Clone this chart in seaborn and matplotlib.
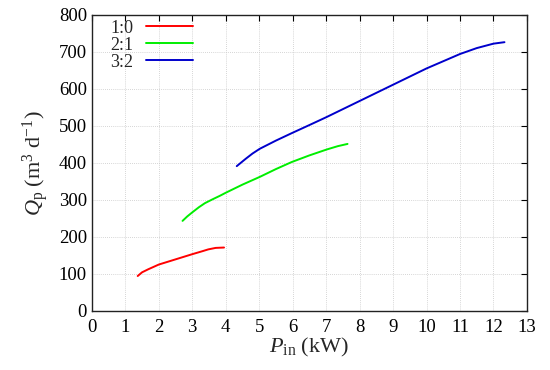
import matplotlib
matplotlib.use("Agg")
import matplotlib.pyplot as plt
import seaborn as sns
import pandas as pd

labels = ["1:0", "2:1", "3:2"]
colors = ["#ff0000", "#00ee00", "#0000cc"]

x_10 = [1.37, 1.5, 1.68, 2.0, 2.5, 3.0, 3.3, 3.48, 3.7, 3.95]
y_10 = [94, 104, 112, 125, 139, 153, 161, 166, 170, 171]

x_21 = [2.71, 2.85, 3.0, 3.2, 3.38, 3.6, 3.83, 4.0, 4.5, 5.02, 5.5, 5.97, 6.5, 7.02, 7.35, 7.64]
y_21 = [243, 255, 266, 280, 291, 301, 311, 319, 341, 362, 383, 402, 420, 436, 445, 451]

x_32 = [4.33, 4.6, 4.8, 5.02, 5.5, 5.97, 6.5, 7.0, 8.0, 9.0, 10.0, 11.0, 11.5, 12.0, 12.33]
y_32 = [391, 411, 425, 438, 460, 480, 502, 523, 567, 611, 655, 694, 710, 722, 726]

frames = []
for lab, xs, ys in zip(labels, [x_10, x_21, x_32], [y_10, y_21, y_32]):
    frames.append(pd.DataFrame({"P": xs, "Q": ys, "ratio": lab}))
df = pd.concat(frames, ignore_index=True)

sns.set_style("white")
plt.rcParams["font.family"] = ["Liberation Serif", "DejaVu Serif"]
plt.rcParams["mathtext.fontset"] = "custom"
plt.rcParams["mathtext.rm"] = "Liberation Serif"
plt.rcParams["mathtext.it"] = "Liberation Serif:italic"

fig = plt.figure(figsize=(5.5, 3.7), dpi=100)
ax = fig.add_axes([0.167, 0.160, 0.791, 0.800])

sns.lineplot(data=df, x="P", y="Q", hue="ratio", palette=colors, hue_order=labels,
             linewidth=1.4, ax=ax, sort=False, estimator=None)

ax.set_xlim(0, 13)
ax.set_ylim(0, 800)
ax.set_xticks(range(0, 14))
ax.set_yticks(range(0, 801, 100))
ax.grid(True, color="#c8c8c8", linestyle=(0, (1, 1.5)), linewidth=0.6)
ax.tick_params(direction="in", top=True, right=True, length=4, width=0.8,
               labelsize=13.5, colors="#000000")
ax.tick_params(axis="x", pad=6)
for s in ax.spines.values():
    s.set_color("#222222")
    s.set_linewidth(1.0)

ax.set_xlabel(r"$P_\mathrm{in}$ (kW)", fontsize=16, labelpad=0)
ax.set_ylabel(r"$Q_\mathrm{p}$ (m$^3$ d$^{-1}$)", fontsize=16, labelpad=6)

leg = ax.legend(loc="upper left", frameon=False, markerfirst=False, fontsize=13,
                handlelength=2.6, labelspacing=0.0, borderaxespad=0.0,
                handletextpad=0.7, bbox_to_anchor=(0.025, 1.008))
fig.savefig("out.png", dpi=100)
